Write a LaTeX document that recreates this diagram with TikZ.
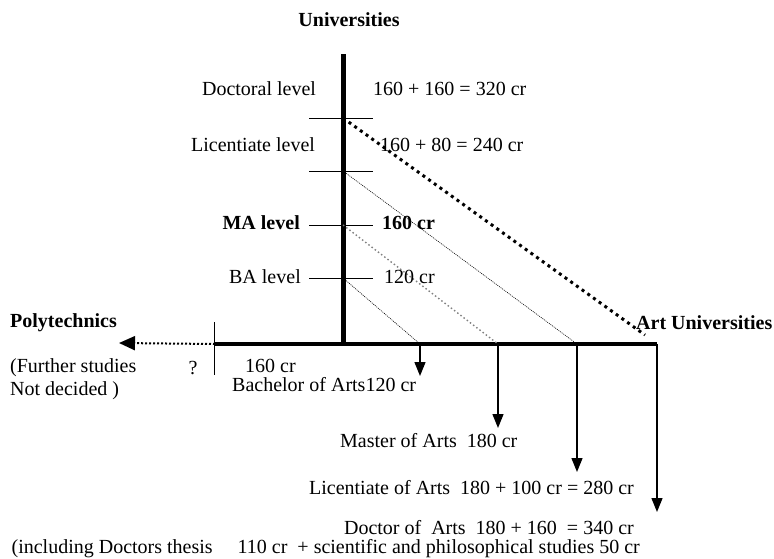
\documentclass[tikz,border=0pt]{standalone}
\usepackage{fontspec}
\setmainfont{Liberation Serif}
\usetikzlibrary{arrows.meta}

\begin{document}
\begin{tikzpicture}[x=1pt,y=-1pt,
  lbl/.style={font=\fontsize{20}{23}\selectfont, inner sep=0pt},
  blbl/.style={font=\fontsize{20}{23}\selectfont\bfseries, inner sep=0pt},
  tight/.style={lbl, anchor=base west, text height=12pt, text depth=0pt},
  down/.style={line width=1.3pt, -{Triangle[length=14pt,width=11pt]}}]
\useasboundingbox (0,0) rectangle (774,558);
% axes
\coordinate (top) at (343,54);
\coordinate (o) at (343,344);
\coordinate (left) at (215,344);
\coordinate (right) at (657,344);
\coordinate (bartop) at (214,322);
\coordinate (barbot) at (214,375);
\coordinate (poly) at (119,343);
\coordinate (artend) at (645,335);
\draw[line width=5pt] (top) -- (o);
\draw[line width=4pt] (left) -- (right);
\draw[line width=1pt] (bartop) -- (barbot);
\draw[line width=2pt, dash pattern=on 2pt off 2pt, -{Triangle[length=16pt,width=14pt]}] (left) -- (poly);
% level ticks
\foreach \y/\n in {118/d,171/l,225/m,278/b} {
  \draw[line width=1pt] (309,\y) -- (373,\y);
  \coordinate (t\n) at (343,\y);
}
% arrows down to the degrees
\foreach \i/\x/\y in {1/420/376,2/498/428,3/577/472,4/657/512} {
  \coordinate (f\i) at (\x,344);
  \coordinate (e\i) at (\x,\y);
  \draw[down] (f\i) -- (e\i);
}
% diagonals
\draw[line width=3pt, dash pattern=on 3pt off 4pt] (td) -- (artend);
\draw[line width=0.6pt, dash pattern=on 1pt off 1pt] (tl) -- (f3);
\draw[gray, line width=1.4pt, dash pattern=on 1.5pt off 2.5pt] (tm) -- (f2);
\draw[line width=0.6pt, dash pattern=on 1pt off 1pt] (tb) -- (f1);
% labels
\node[blbl] (univ) at (349,20) {Universities};
\node[lbl] (doc) at (259,89) {Doctoral level};
\node[lbl, anchor=west] (doccr) at (373,89) {160 + 160 = 320 cr};
\node[lbl] (lic) at (253,145) {Licentiate level};
\node[lbl, anchor=west] (liccr) at (380,145) {160 + 80 = 240 cr};
\node[blbl, anchor=east] (ma) at (300,223) {MA level};
\node[blbl, anchor=west] (macr) at (382,223) {160 cr};
\node[lbl, anchor=east] (ba) at (301,277) {BA level};
\node[lbl, anchor=west] (bacr) at (384,277) {120 cr};
\node[blbl, anchor=west] (polyt) at (10,323) {Polytechnics};
\node[blbl, anchor=west] (artu) at (636,323) {Art Universities};
\node[lbl, anchor=west] (furth) at (10,368) {(Further studies};
\node[lbl] (q) at (193,368) {?};
\node[lbl, anchor=west] (notd) at (10,391) {Not decided )};
\node[tight] (polycr) at (245,372) {160 cr};
\node[tight] (bach) at (232,391) {Bachelor of Arts120 cr};
\node[lbl, anchor=west] (mast) at (340,441) {Master of Arts\ \ 180 cr};
\node[lbl, anchor=east] (licart) at (634,488) {Licentiate of Arts\ \ 180 + 100 cr = 280 cr};
\node[lbl, anchor=east] (docart) at (634,528) {Doctor of\ \ Arts\ \ 180 + 160\ \ = 340 cr};
\node[lbl, anchor=east] (incl) at (640,549) {(including Doctors thesis\ \ \ \ \ 110 cr\ \ + scientific and philosophical studies 50 cr};
\end{tikzpicture}
\end{document}
